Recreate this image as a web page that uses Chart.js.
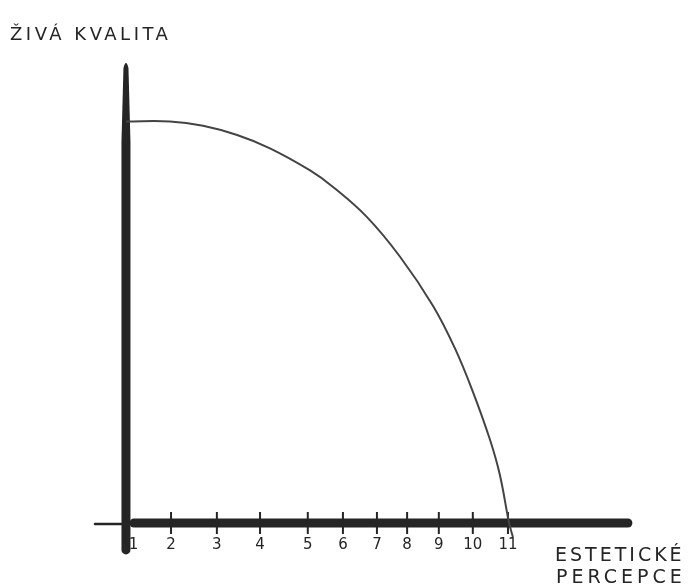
<!DOCTYPE html>
<html><head><meta charset="utf-8">
<script src="https://cdn.jsdelivr.net/npm/chart.js@4.4.1/dist/chart.umd.min.js"></script>
<style>html,body{margin:0;padding:0;background:#fff}#wrap{width:693px;height:586px}</style>
</head><body><div id="wrap"><canvas id="c" width="693" height="586"></canvas></div>
<script>
// Hand-drawn axis: tick labels and where each tick sits along the x axis
const tickLabels = ['1','2','3','4','5','6','7','8','9','10','11'];
const tickAt = [1, 2.18, 3.38, 4.51, 5.76, 6.68, 7.57, 8.36, 9.19, 10.08, 11];
// Curve
const curveX = [1.0, 2.15, 3.02, 3.91, 4.77, 5.82, 6.42, 7.31, 8.17, 9.04, 9.61, 10.08, 10.53, 10.79, 11.03, 11.13];
const curveY = [9.99, 9.99, 9.88, 9.65, 9.32, 8.77, 8.36, 7.61, 6.63, 5.40, 4.35, 3.27, 2.07, 1.19, 0.0, -0.35];
const yTitle = 'ŽIVÁ KVALITA';
const xTitle = ['ESTETICKÉ', 'PERCEPCE'];

const INK = '#252525';

const sketchAxes = {
  id: 'sketchAxes',
  beforeDatasetsDraw(chart) {
    const {ctx, scales: {x, y}} = chart;
    const x0 = x.getPixelForValue(1);
    const y0 = y.getPixelForValue(0);
    ctx.save();
    ctx.strokeStyle = INK;
    ctx.fillStyle = INK;
    ctx.lineCap = 'round';
    // thin lead-in of the x axis
    ctx.lineWidth = 2.5;
    ctx.beginPath();
    ctx.moveTo(x.getPixelForValue(0.19), y0 + 1);
    ctx.lineTo(x0 + 4, y0 + 1);
    ctx.stroke();
    // thick x axis
    ctx.lineWidth = 9;
    ctx.beginPath();
    ctx.moveTo(x0 + 8, y0);
    ctx.lineTo(x.getPixelForValue(14.14), y0);
    ctx.stroke();
    // ticks
    ctx.lineWidth = 2;
    ctx.lineCap = 'butt';
    tickAt.slice(1).forEach(v => {
      const px = x.getPixelForValue(v);
      ctx.beginPath();
      ctx.moveTo(px, y0 - 11);
      ctx.lineTo(px, y0 + 11);
      ctx.stroke();
    });
    // y axis (slightly tapered towards the top)
    const top = y.getPixelForValue(11.47);
    const bot = y.getPixelForValue(-0.67);
    ctx.beginPath();
    ctx.moveTo(x0 - 2.5, top + 6);
    ctx.quadraticCurveTo(x0, top - 4, x0 + 2.5, top + 6);
    ctx.lineTo(x0 + 4.5, top + 80);
    ctx.lineTo(x0 + 4.5, bot);
    ctx.arc(x0, bot, 4.5, 0, Math.PI);
    ctx.lineTo(x0 - 4.5, top + 80);
    ctx.closePath();
    ctx.fill();
    ctx.restore();
  },
  afterDraw(chart) {
    const {ctx} = chart;
    ctx.save();
    ctx.fillStyle = INK;
    ctx.textBaseline = 'alphabetic';
    ctx.font = '18px "DejaVu Sans"';
    if ('letterSpacing' in ctx) ctx.letterSpacing = '3.5px';
    ctx.fillText(yTitle, 10, 40);
    ctx.font = '19px "DejaVu Sans"';
    if ('letterSpacing' in ctx) ctx.letterSpacing = '3px';
    ctx.fillText(xTitle[0], 555, 561);
    if ('letterSpacing' in ctx) ctx.letterSpacing = '4px';
    ctx.fillText(xTitle[1], 556, 583);
    ctx.restore();
  }
};

new Chart(document.getElementById('c'), {
  type: 'line',
  data: {
    datasets: [{
      data: curveX.map((v, i) => ({x: v, y: curveY[i]})),
      borderColor: '#444',
      borderWidth: 2,
      pointRadius: 0,
      tension: 0.4,
      clip: false,
      fill: false
    }]
  },
  options: {
    responsive: false,
    animation: false,
    devicePixelRatio: 1,
    layout: {padding: {left: 95.4, right: 62.8, top: 60.7, bottom: 0}},
    plugins: {legend: {display: false}, tooltip: {enabled: false}, title: {display: false}},
    scales: {
      x: {
        type: 'linear',
        min: 0.2,
        max: 14.2,
        grid: {display: false, drawTicks: false},
        border: {display: false},
        afterBuildTicks: s => { s.ticks = tickAt.map(v => ({value: v})); },
        afterFit: s => { s.height = 63; },
        ticks: {
          autoSkip: false,
          maxRotation: 0,
          padding: 13,
          color: INK,
          font: {family: '"DejaVu Sans"', size: 15},
          callback: (v, i) => i === 0 ? '\u2002\u2002' + tickLabels[i] : tickLabels[i]
        }
      },
      y: {
        type: 'linear',
        min: 0,
        max: 11.5,
        display: false
      }
    }
  },
  plugins: [sketchAxes]
});
</script>
</body></html>
